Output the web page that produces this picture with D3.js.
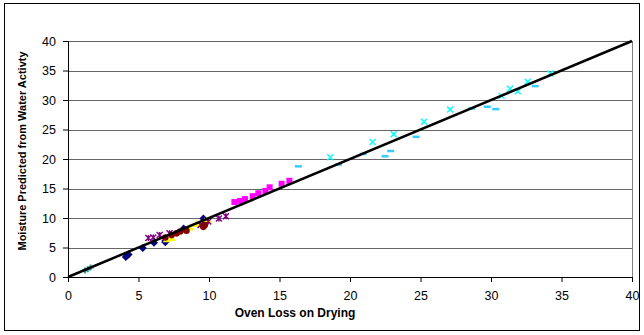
<!DOCTYPE html>
<html>
<head>
<meta charset="utf-8">
<script src="https://cdn.jsdelivr.net/npm/d3@7"></script>
<style>
  body { margin: 0; background: #fff; }
  svg text { font-family: "Liberation Sans", Arial, sans-serif; }
</style>
</head>
<body>
<svg id="chart" width="644" height="335"></svg>
<script>
// axis ticks
const xTicks = [0, 5, 10, 15, 20, 25, 30, 35, 40];
const yTicks = [0, 5, 10, 15, 20, 25, 30, 35, 40];

// series: [oven loss, predicted moisture]
const navyDiamonds = [[4.1, 3.4], [4.2, 3.7], [4.3, 3.8], [5.3, 4.9], [6.1, 5.8], [6.9, 5.9], [6.9, 6.1], [8.2, 8.2], [9.6, 9.9]];
const magentaSquares = [[11.8, 12.7], [12.2, 12.9], [12.55, 13.2], [13.1, 13.7], [13.5, 14.2], [14.0, 14.6], [14.3, 15.2], [15.15, 15.8], [15.7, 16.3]];
const yellowTriangles = [[7.0, 6.4], [7.35, 6.6], [8.65, 8.4], [9.1, 9.0], [9.7, 9.4], [9.95, 9.6]];
const cyanCrosses = [[18.6, 20.3], [21.6, 22.9], [23.1, 24.2], [25.25, 26.3], [27.1, 28.4], [30.75, 30.7], [31.35, 31.9], [31.9, 31.5], [32.6, 33.1], [34.2, 34.5]];
const purpleStars = [[5.7, 6.6], [6.05, 6.7], [6.5, 7.1], [7.2, 7.4], [9.4, 8.8], [9.95, 9.4], [10.7, 9.9], [11.2, 10.3]];
const darkRedCircles = [[6.9, 6.7], [7.35, 7.1], [7.7, 7.4], [7.95, 7.7], [8.4, 7.85], [9.6, 8.5], [9.7, 8.8]];
const tealPlus = [[1.2, 1.1], [1.4, 1.3], [1.6, 1.6]];
const blueDashes = [[16.3, 18.8], [19.15, 19.1], [20.9, 20.9], [22.45, 20.5], [22.85, 21.4], [24.65, 23.8], [28.6, 28.6], [29.7, 28.9], [30.3, 28.5], [33.1, 32.4]];

const series = [
  { data: navyDiamonds, color: '#000080', shape: 'diamond' },
  { data: magentaSquares, color: '#ff00ff', shape: 'square' },
  { data: yellowTriangles, color: '#ffff00', shape: 'triangle' },
  { data: purpleStars, color: '#800080', shape: 'star' },
  { data: darkRedCircles, color: '#800000', shape: 'circle' },
  { data: tealPlus, color: '#339999', shape: 'plus' },
  { data: cyanCrosses, color: '#00ffff', shape: 'cross' },
  { data: blueDashes, color: '#33ccff', shape: 'dash' }
];

const svg = d3.select('#chart');

// chart area border
svg.append('rect')
  .attr('x', 4.5).attr('y', 3.5)
  .attr('width', 635).attr('height', 327)
  .attr('fill', '#fff').attr('stroke', '#000').attr('stroke-width', 1);

const margin = { top: 41, left: 68, right: 12, bottom: 58 };
const width = 644 - margin.left - margin.right;
const height = 335 - margin.top - margin.bottom;

const g = svg.append('g')
  .attr('transform', `translate(${margin.left},${margin.top})`);

const x = d3.scaleLinear().domain([0, 40]).range([0, width]);
const y = d3.scaleLinear().domain([0, 40]).range([height, 0]);

// gridlines
g.append('g')
  .selectAll('line')
  .data(yTicks.filter(d => d > 0))
  .join('line')
  .attr('x1', 0).attr('x2', width)
  .attr('y1', d => Math.round(y(d)) + 0.5).attr('y2', d => Math.round(y(d)) + 0.5)
  .attr('stroke', '#666');

// right border of plot area
g.append('line')
  .attr('x1', width + 0.5).attr('x2', width + 0.5)
  .attr('y1', 0).attr('y2', height)
  .attr('stroke', '#808080');

// axes
const xAxis = g.append('g')
  .attr('transform', `translate(0,${height})`)
  .call(d3.axisBottom(x).tickValues(xTicks).tickSize(5).tickPadding(9));
const yAxis = g.append('g')
  .call(d3.axisLeft(y).tickValues(yTicks).tickSize(5).tickPadding(7));

[xAxis, yAxis].forEach(a => {
  a.select('.domain').attr('stroke', '#000');
  a.selectAll('.tick line').attr('stroke', '#000');
  a.selectAll('.tick text')
    .attr('fill', '#000')
    .style('font-size', '12.5px')
    .style('font-family', '"Liberation Sans", Arial, sans-serif');
});

// markers
const sz = 6;
function drawMarker(sel, shape, color) {
  const h = sz / 2;
  if (shape === 'diamond') {
    sel.append('path').attr('d', `M0,${-h - 1}L${h + 1},0L0,${h + 1}L${-h - 1},0Z`).attr('fill', color);
  } else if (shape === 'square') {
    sel.append('rect').attr('x', -h).attr('y', -h).attr('width', sz).attr('height', sz).attr('fill', color);
  } else if (shape === 'triangle') {
    sel.append('path').attr('d', `M0,${-h - 1}L${h + 1},${h}L${-h - 1},${h}Z`).attr('fill', color);
  } else if (shape === 'circle') {
    sel.append('circle').attr('r', h + 0.3).attr('fill', color);
  } else if (shape === 'cross') {
    sel.append('path').attr('d', `M${-h},${-h}L${h},${h}M${-h},${h}L${h},${-h}`)
      .attr('stroke', color).attr('stroke-width', 1.4).attr('fill', 'none');
  } else if (shape === 'star') {
    sel.append('path').attr('d', `M${-h},${-h}L${h},${h}M${-h},${h}L${h},${-h}M0,${-h}L0,${h}`)
      .attr('stroke', color).attr('stroke-width', 1.4).attr('fill', 'none');
  } else if (shape === 'plus') {
    sel.append('path').attr('d', `M${-h},0L${h},0M0,${-h}L0,${h}`)
      .attr('stroke', color).attr('stroke-width', 2).attr('fill', 'none');
  } else if (shape === 'dash') {
    sel.append('rect').attr('x', -h).attr('y', -1).attr('width', sz + 1).attr('height', 2.5).attr('fill', color);
  }
}

series.forEach(s => {
  g.append('g')
    .selectAll('g')
    .data(s.data)
    .join('g')
    .attr('transform', d => `translate(${x(d[0])},${y(d[1])})`)
    .each(function () { drawMarker(d3.select(this), s.shape, s.color); });
});

// 1:1 line
g.append('line')
  .attr('x1', x(0)).attr('y1', y(0))
  .attr('x2', x(40)).attr('y2', y(40))
  .attr('stroke', '#000').attr('stroke-width', 2.5);

// titles
svg.append('text')
  .attr('x', 295).attr('y', 317)
  .attr('text-anchor', 'middle')
  .style('font-size', '12px').style('font-weight', 'bold')
  .text('Oven Loss on Drying');

svg.append('text')
  .attr('transform', 'translate(26,151) rotate(-90)')
  .attr('text-anchor', 'middle')
  .style('font-size', '11px').style('font-weight', 'bold')
  .text('Moisture Predicted from Water Activty');
</script>
</body>
</html>
